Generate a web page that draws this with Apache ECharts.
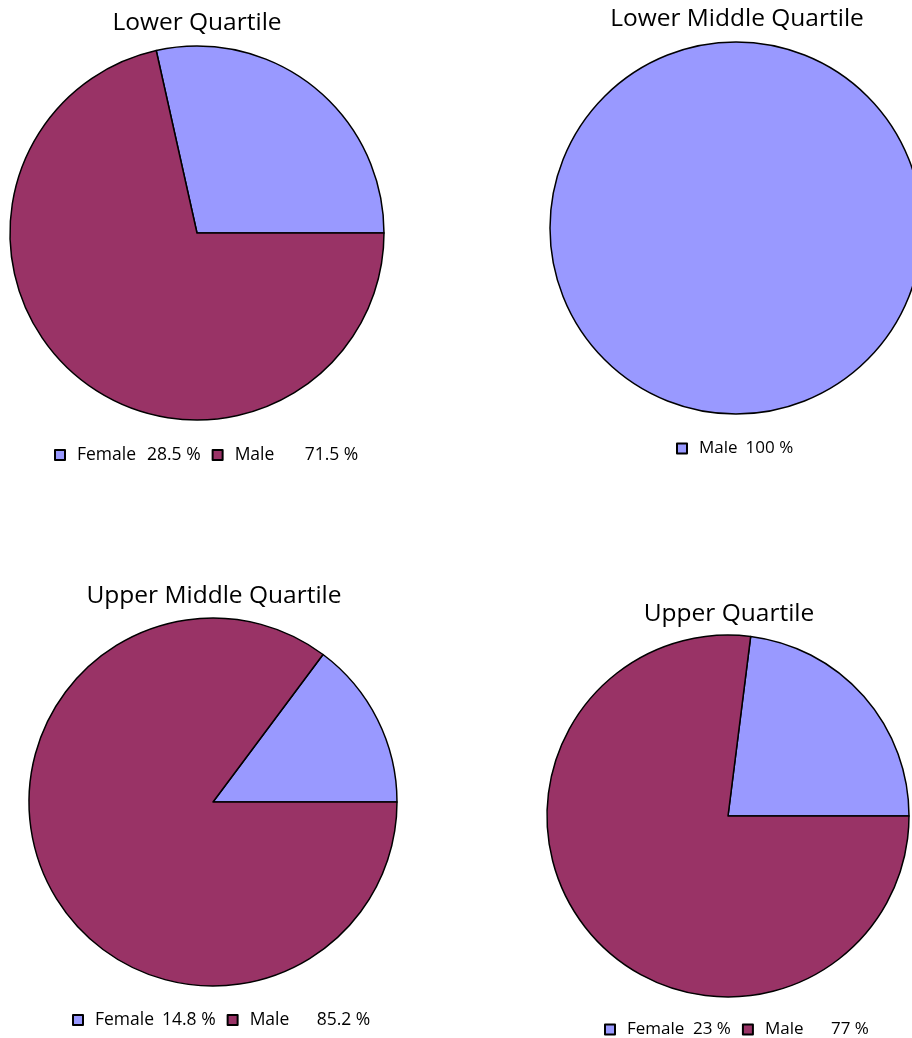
<!DOCTYPE html>
<html><head><meta charset="utf-8">
<script src="https://cdn.jsdelivr.net/npm/echarts@6/dist/echarts.min.js"></script>
<style>html,body{margin:0;padding:0;background:#fff;width:912px;height:1038px;overflow:hidden}
.c{position:absolute;left:0;top:0;width:912px;height:1038px}</style>
</head><body>
<div id="c0" class="c"></div><div id="c1" class="c"></div><div id="c2" class="c"></div><div id="c3" class="c"></div>
<script>
const titles = ['Lower Quartile', 'Lower Middle Quartile', 'Upper Middle Quartile', 'Upper Quartile'];
const lowerQuartileNames = ['Female', 'Male'];
const lowerQuartileValues = [28.5, 71.5];
const lowerMiddleNames = ['Male'];
const lowerMiddleValues = [100];
const upperMiddleNames = ['Female', 'Male'];
const upperMiddleValues = [14.8, 85.2];
const upperQuartileNames = ['Female', 'Male'];
const upperQuartileValues = [23, 77];
const palette = ['#9999FF', '#993366'];

const layouts = [
  {cx:197, cy:233, r:187, tx:192, ty:6, lx:49, ly:441, nw:70, fs:17.5},
  {cx:736, cy:228, r:186, tx:732, ty:2, lx:671, ly:435, nw:0, fs:17},
  {cx:213, cy:802, r:184, tx:209, ty:579, lx:67, ly:1006, nw:67, fs:17.5},
  {cx:728, cy:816, r:181, tx:724, ty:597, lx:599, ly:1016, nw:66, fs:17}
];
const sets = [
  [lowerQuartileNames, lowerQuartileValues],
  [lowerMiddleNames, lowerMiddleValues],
  [upperMiddleNames, upperMiddleValues],
  [upperQuartileNames, upperQuartileValues]
];
const FONT = '"Open Sans", sans-serif';
sets.forEach(([names, vals], i) => {
  const L = layouts[i];
  const data = names.map((n, k) => ({name: n, value: vals[k], itemStyle: {color: palette[k]}}));
  const chart = echarts.init(document.getElementById('c' + i), null, {renderer: 'canvas'});
  const nStyle = {fontFamily: FONT, fontSize: L.fs, color: '#000', padding: [0, L.nw ? 0 : 8, 0, 7]};
  if (L.nw) nStyle.width = L.nw;
  chart.setOption({
    animation: false,
    title: {text: titles[i], left: L.tx, top: L.ty, textAlign: 'center',
      textStyle: {fontFamily: FONT, fontSize: 24.5, fontWeight: 'normal', color: '#000'}},
    legend: {
      left: L.lx, top: L.ly, orient: 'horizontal', icon: 'rect',
      itemWidth: 10, itemHeight: 10, itemGap: 11,
      itemStyle: {borderColor: '#000', borderWidth: 2},
      data: names,
      formatter: name => {
        const k = names.indexOf(name);
        return '{n|' + name + '}{v|' + vals[k] + ' %}';
      },
      textStyle: {fontFamily: FONT, fontSize: L.fs, color: '#000',
        rich: {
          n: nStyle,
          v: {fontFamily: FONT, fontSize: L.fs, color: '#000'}
        }}
    },
    series: [{
      type: 'pie', center: [L.cx, L.cy], radius: [0, L.r],
      startAngle: 0, clockwise: false, label: {show: false}, labelLine: {show: false},
      silent: true,
      itemStyle: {borderColor: '#000', borderWidth: 1.5},
      data: data
    }]
  });
});
</script>
</body></html>
